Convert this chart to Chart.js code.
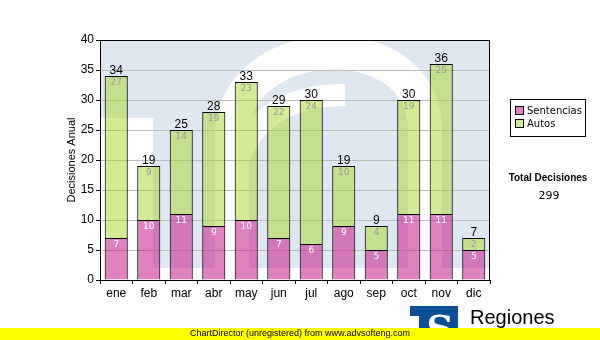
<!DOCTYPE html>
<html>
<head>
<meta charset="utf-8">
<script src="https://cdn.jsdelivr.net/npm/chart.js@4/dist/chart.umd.min.js"></script>
<style>
  html, body { margin: 0; padding: 0; background: #fff; }
  #c { display: block; }
</style>
</head>
<body>
<canvas id="c" width="600" height="340"></canvas>
<script>
const meses = ['ene', 'feb', 'mar', 'abr', 'may', 'jun', 'jul', 'ago', 'sep', 'oct', 'nov', 'dic'];
const sentencias = [7, 10, 11, 9, 10, 7, 6, 9, 5, 11, 11, 5];
const autos = [27, 9, 14, 19, 23, 22, 24, 10, 4, 19, 25, 2];
const yTicks = [0, 5, 10, 15, 20, 25, 30, 35, 40];

const totales = meses.map((m, i) => sentencias[i] + autos[i]);
const totalDecisiones = totales.reduce((a, b) => a + b, 0);

const PINK = 'rgba(200, 30, 143, 0.56)';
const GREEN = 'rgba(169, 215, 45, 0.5)';
const SANS = "'Liberation Sans', Arial, sans-serif";
const VERD = "'DejaVu Sans', Verdana, sans-serif";

Chart.defaults.font.family = SANS;
Chart.defaults.font.size = 12;
Chart.defaults.color = '#000';

// fondo del area de trazado con la "S" del logo en marca de agua
const fondo = {
  id: 'fondo',
  beforeDraw(chart) {
    const ctx = chart.ctx;
    const a = chart.chartArea;
    ctx.save();
    ctx.fillStyle = '#fff';
    ctx.fillRect(0, 0, chart.width, chart.height);

    ctx.beginPath();
    ctx.rect(a.left, a.top, a.right - a.left, a.bottom - a.top);
    ctx.clip();
    ctx.fillStyle = '#dfe8f1';
    ctx.fillRect(a.left, a.top, a.right - a.left, a.bottom - a.top);

    ctx.translate(a.left, a.top);
    ctx.scale((a.right - a.left) / 390, (a.bottom - a.top) / 240);
    ctx.fillStyle = '#fff';
    ctx.fillRect(0, 78, 53, 162);
    ctx.fillRect(53, 228, 340, 12);

    ctx.strokeStyle = '#fff';
    ctx.lineWidth = 34;
    ctx.beginPath();
    ctx.moveTo(132, 240);
    ctx.lineTo(132, 95);
    ctx.bezierCurveTo(132, -10, 330, -20, 325, 95);
    ctx.lineTo(325, 240);
    ctx.stroke();

    ctx.lineWidth = 22;
    ctx.beginPath();
    ctx.moveTo(140, 115);
    ctx.quadraticCurveTo(165, 55, 245, 55);
    ctx.stroke();
    ctx.restore();
  }
};

// marco superior/derecho, etiquetas, leyenda, total y pie
const extras = {
  id: 'extras',
  afterDatasetsDraw(chart) {
    const ctx = chart.ctx;
    const a = chart.chartArea;
    ctx.save();
    ctx.strokeStyle = '#000';
    ctx.lineWidth = 1;
    ctx.strokeRect(a.left + 0.5, a.top + 0.5, a.right - a.left - 1, a.bottom - a.top);

    const s0 = chart.getDatasetMeta(0).data;
    const s1 = chart.getDatasetMeta(1).data;
    ctx.textAlign = 'center';
    ctx.textBaseline = 'middle';
    ctx.font = '9px ' + VERD;
    s0.forEach((bar, i) => {
      ctx.fillStyle = '#fff';
      ctx.fillText(String(sentencias[i]), bar.x, bar.y + 7);
    });
    s1.forEach((bar, i) => {
      ctx.fillStyle = '#999';
      ctx.fillText(String(autos[i]), bar.x, bar.y + 7);
    });
    ctx.font = '12px ' + SANS;
    ctx.textBaseline = 'alphabetic';
    ctx.fillStyle = '#000';
    s1.forEach((bar, i) => {
      ctx.fillText(String(totales[i]), bar.x, bar.y - 2);
    });

    // leyenda
    ctx.fillStyle = '#fff';
    ctx.fillRect(510.5, 99.5, 75, 37);
    ctx.strokeRect(510.5, 99.5, 75, 37);
    ctx.font = '10px ' + VERD;
    ctx.textAlign = 'left';
    ctx.textBaseline = 'middle';
    chart.data.datasets.forEach((ds, i) => {
      const y = 111 + i * 13;
      ctx.fillStyle = '#fff';
      ctx.fillRect(515.5, y - 4.5, 8, 8);
      ctx.fillStyle = ds.backgroundColor;
      ctx.fillRect(515.5, y - 4.5, 8, 8);
      ctx.strokeStyle = '#000';
      ctx.strokeRect(515.5, y - 4.5, 8, 8);
      ctx.fillStyle = '#000';
      ctx.fillText(ds.label, 527, y);
    });

    ctx.textAlign = 'center';
    ctx.font = 'bold 10px ' + SANS;
    ctx.fillText('Total Decisiones', 548, 178);
    ctx.font = '11px ' + VERD;
    ctx.fillText(String(totalDecisiones), 549, 196);

    // logo
    ctx.fillStyle = '#0b4f96';
    ctx.fillRect(410, 306, 48, 34);
    ctx.fillStyle = '#fff';
    ctx.fillRect(410, 316, 9, 24);
    ctx.font = "bold 38px 'DejaVu Serif', serif";
    ctx.textBaseline = 'alphabetic';
    ctx.fillText('S', 440, 342);
    ctx.fillStyle = '#000';
    ctx.textAlign = 'left';
    ctx.font = '20px ' + SANS;
    ctx.fillText('Regiones', 470, 324);
    ctx.font = '11px ' + SANS;
    ctx.fillText('Tribunal Supremo de Justicia', 469, 337);

    // franja inferior
    ctx.fillStyle = '#ffff00';
    ctx.fillRect(0, 328, 600, 12);
    ctx.fillStyle = '#000';
    ctx.textAlign = 'center';
    ctx.textBaseline = 'middle';
    ctx.font = '9px ' + SANS;
    ctx.fillText('ChartDirector (unregistered) from www.advsofteng.com', 300, 334);
    ctx.restore();
  }
};

new Chart(document.getElementById('c'), {
  type: 'bar',
  data: {
    labels: meses,
    datasets: [
      { label: 'Sentencias', data: sentencias, backgroundColor: PINK, borderColor: '#000', borderWidth: 1 },
      { label: 'Autos', data: autos, backgroundColor: GREEN, borderColor: '#000', borderWidth: 1 }
    ]
  },
  options: {
    responsive: false,
    animation: false,
    layout: { padding: { left: 60, right: 110, top: 40, bottom: 0 } },
    categoryPercentage: 1,
    barPercentage: 0.71,
    plugins: { legend: { display: false }, tooltip: { enabled: false } },
    scales: {
      x: {
        stacked: true,
        afterFit: s => { s.height = 60; },
        grid: { drawOnChartArea: false, tickLength: 4, tickColor: '#000' },
        border: { color: '#000' },
        ticks: { padding: 2, font: { size: 12 } }
      },
      y: {
        stacked: true,
        min: 0,
        max: 40,
        afterFit: s => { s.width = 40; },
        afterBuildTicks: s => { s.ticks = yTicks.map(v => ({ value: v })); },
        grid: { color: '#bbb', tickLength: 4, tickColor: '#000' },
        border: { color: '#000' },
        ticks: { padding: 2, font: { size: 12 } },
        title: { display: true, text: 'Decisiones Anual', font: { size: 11 }, padding: { top: 5, bottom: 0 } }
      }
    }
  },
  plugins: [fondo, extras]
});
</script>
</body>
</html>
